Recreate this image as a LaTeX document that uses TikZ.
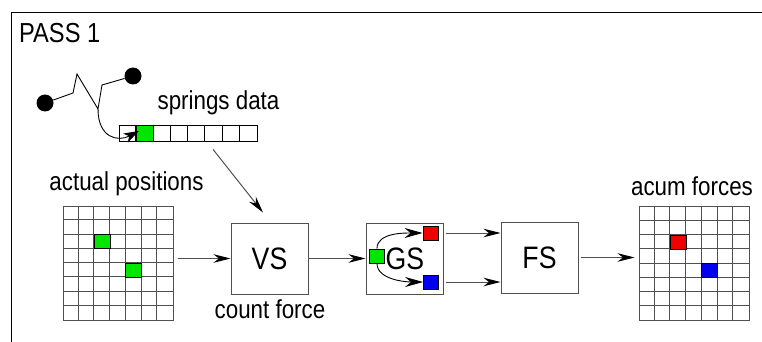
\documentclass[tikz,border=0pt]{standalone}
\usepackage{fontspec}
\setmainfont[FakeStretch=0.86]{Liberation Sans}
\usetikzlibrary{arrows.meta,positioning}
\definecolor{linegray}{HTML}{505050}
\definecolor{cellgreen}{HTML}{00E600}
\definecolor{cellred}{HTML}{F00000}
\definecolor{cellblue}{HTML}{0000F0}

\begin{document}
\begin{tikzpicture}[x=1pt, y=-1pt,
  lbl/.style={font=\fontsize{26}{29}\selectfont, inner sep=0pt, anchor=base},
  proc/.style={draw=linegray, line width=1pt, minimum width=77pt, minimum height=71pt,
    inner sep=0pt, font=\fontsize{31}{34}\selectfont},
  mat/.style={draw=linegray, line width=1pt, minimum width=110pt, minimum height=114pt, inner sep=0pt},
  matline/.style={draw=linegray, line width=1pt},
  cell/.style={draw=black, line width=0.9pt, minimum width=15.7pt, minimum height=14.2pt, inner sep=0pt},
  flow/.style={draw=linegray, line width=1pt, -{Stealth[length=17pt, width=8.5pt, inset=5.5pt, color=black]}},
  ball/.style={circle, fill=black, minimum size=17pt, inner sep=0pt}]
  \useasboundingbox (0,0) rectangle (762,342);

  % --- frame ---
  \draw[line width=0.9pt] (762,12) -- (11,12) -- (11,342);
  \node[lbl, anchor=base west, font=\fontsize{27.5}{31}\selectfont] (pass) at (19,43) {PASS 1};

  % --- spring and its data ---
  \node[ball] (ballA) at (45,103) {};
  \node[ball] (ballB) at (133,76) {};
  \draw[line width=0.9pt] (ballA) -- (73,93) -- (77,74) -- (98,109) -- (102,85) -- (ballB);
  \coordinate (spend) at (98,109);

  \node[draw=black, line width=0.8pt, minimum width=138pt, minimum height=16pt, inner sep=0pt] (arr) at (188,133) {};
  \foreach \i in {1,...,7} {
    \draw[line width=0.8pt] ([xshift=\i*17.25pt]arr.north west) -- ([xshift=\i*17.25pt]arr.south west);
  }
  \node[draw=black, line width=0.8pt, fill=cellgreen, minimum width=17.25pt, minimum height=16pt,
    inner sep=0pt, anchor=north west] (sc) at ([xshift=17.25pt]arr.north west) {};
  \node[lbl] (sdata) at (218.5,110) {springs data};
  \draw[line width=0.9pt, -{Stealth[length=15pt, width=10pt, inset=4pt]}]
    (spend) .. controls (98,138) and (118,142) .. ([shift={(3,-2)}]sc.west);

  % --- position and force matrices ---
  \node[mat] (pos) at (118,263) {};
  \node[mat] (acc) at (694,263.5) {};
  \foreach \g in {pos,acc} {
    \foreach \i in {1,...,6} {
      \draw[matline] ([xshift=\i*15.714pt]\g.north west) -- ([xshift=\i*15.714pt]\g.south west);
    }
    \foreach \j in {1,...,7} {
      \draw[matline] ([yshift=-\j*14.25pt]\g.north west) -- ([yshift=-\j*14.25pt]\g.north east);
    }
  }
  \node[cell, fill=cellgreen, anchor=north west] (p1) at ([xshift=31.43pt, yshift=-28.5pt]pos.north west) {};
  \node[cell, fill=cellgreen, anchor=north west] (p2) at ([xshift=62.86pt, yshift=-57pt]pos.north west) {};
  \node[cell, fill=cellred, anchor=north west] (f1) at ([xshift=31.43pt, yshift=-28.5pt]acc.north west) {};
  \node[cell, fill=cellblue, anchor=north west] (f2) at ([xshift=62.86pt, yshift=-57pt]acc.north west) {};
  \node[lbl] (apos) at (126.5,190) {actual positions};
  \node[lbl] (aforce) at (692,195) {acum forces};

  % --- shaders ---
  \node[proc] (vs) at (269.5,258.5) {VS};
  \node[lbl] (cnt) at (270,318) {count force};
  \node[proc] (gs) at (404.5,258.5) {\hspace*{1pt}GS};
  \node[proc] (fs) at (539.5,257.5) {FS};

  \node[cell, minimum width=15pt, minimum height=14pt, fill=cellgreen] (gsg) at (377,256) {};
  \node[cell, minimum width=15pt, minimum height=14pt, fill=cellred] (gsr) at (430.5,233) {};
  \node[cell, minimum width=15pt, minimum height=14pt, fill=cellblue] (gsb) at (431,282) {};
  \draw[line width=0.9pt, -{Stealth[length=18pt, width=10pt, inset=6pt]}]
    (gsg.north) .. controls +(0,-16) and +(-18,0) .. (gsr.west);
  \draw[line width=0.9pt, -{Stealth[length=18pt, width=10pt, inset=6pt]}]
    (gsg.south) .. controls +(0,16) and +(-18,0) .. (gsb.west);

  % --- data flow ---
  \draw[flow] ([shift={(25,8)}]arr.south) -- ([shift={(-6.5,-10)}]vs.north);
  \draw[flow] ([xshift=4pt]pos.east |- vs.west) -- (vs.west);
  \draw[flow] (vs.east) -- (gs.west);
  \draw[flow] ([xshift=2pt]gs.east |- gsr.west) -- (fs.west |- gsr.west);
  \draw[flow] ([xshift=2pt]gs.east |- gsb.west) -- (fs.west |- gsb.west);
  \draw[flow] ([xshift=2pt]fs.east) -- ([xshift=-4pt]acc.west |- fs.east);
\end{tikzpicture}
\end{document}
